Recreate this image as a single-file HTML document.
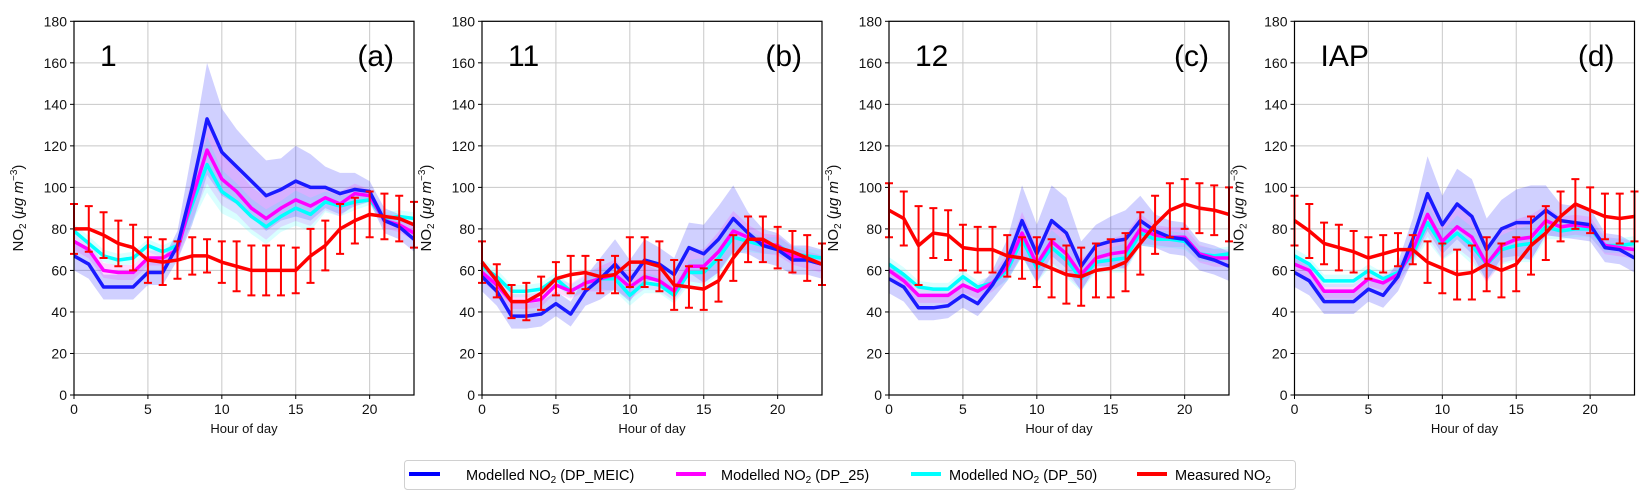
<!DOCTYPE html>
<html><head><meta charset="utf-8"><style>
html,body{margin:0;padding:0;background:#fff;}
svg{display:block;font-family:"Liberation Sans",sans-serif;}
</style></head><body>
<svg id="chart" width="1651" height="503" viewBox="0 0 1651 503" xmlns="http://www.w3.org/2000/svg">
<g id="panels"></g>
<g>
<rect x="404.5" y="460.5" width="891" height="29" rx="3" fill="#fff" stroke="#d0d0d0"/>
<line x1="409" y1="474" x2="440" y2="474" stroke="#0000ff" stroke-width="4"/>
<text x="466" y="480" font-size="14.5">Modelled NO<tspan font-size="10" dy="3">2</tspan><tspan dy="-3"> (DP_MEIC)</tspan></text>
<line x1="676" y1="474" x2="706" y2="474" stroke="#ff00ff" stroke-width="4"/>
<text x="721" y="480" font-size="14.5">Modelled NO<tspan font-size="10" dy="3">2</tspan><tspan dy="-3"> (DP_25)</tspan></text>
<line x1="911" y1="474" x2="941" y2="474" stroke="#00ffff" stroke-width="4"/>
<text x="949" y="480" font-size="14.5">Modelled NO<tspan font-size="10" dy="3">2</tspan><tspan dy="-3"> (DP_50)</tspan></text>
<line x1="1137" y1="474" x2="1167" y2="474" stroke="#ff0000" stroke-width="4"/>
<text x="1175" y="480" font-size="14.5">Measured NO<tspan font-size="10" dy="3">2</tspan></text>
</g>
</svg>
<script>
const hours = [0,1,2,3,4,5,6,7,8,9,10,11,12,13,14,15,16,17,18,19,20,21,22,23];
const xTicks = [0,5,10,15,20];
const yTicks = [0,20,40,60,80,100,120,140,160,180];
const panelNames = ["1","11","12","IAP"];
const panelLetters = ["(a)","(b)","(c)","(d)"];

const meicA = [67,63,52,52,52,59,59,72,100,133,117,110,103,96,99,103,100,100,97,99,98,84,81,75];
const dp25A = [74,70,60,59,59,66,66,70,95,118,104,98,90,85,90,94,91,95,92,97,96,84,82,78];
const dp50A = [79,73,67,65,66,72,69,72,92,111,98,93,86,81,86,90,87,93,91,93,94,85,86,85];
const measA = [80,80,77,73,71,65,64,65,67,67,64,62,60,60,60,60,67,72,80,84,87,86,85,82];
const errA  = [12,11,11,11,11,11,11,9,9,8,10,12,12,12,12,11,13,12,12,11,11,11,11,11];
const sprA  = [7,7,6,6,6,6,6,7,18,27,21,18,17,17,15,17,16,10,10,8,5,6,6,6];

const meicB = [57,50,38,38,39,44,39,50,56,63,55,65,63,58,71,68,75,85,78,72,70,65,65,63];
const dp25B = [59,53,45,45,46,53,50,54,56,58,52,57,55,50,62,62,69,79,76,73,72,67,65,63];
const dp50B = [62,57,50,50,51,56,50,54,56,56,48,54,53,48,59,59,66,76,74,72,72,68,67,66];
const measB = [64,55,45,45,49,56,58,59,57,58,64,64,62,53,52,51,55,66,75,75,71,69,66,63];
const errB  = [10,8,8,9,8,8,9,8,8,9,12,12,12,12,10,10,10,11,11,11,10,10,11,10];
const sprB  = [7,7,6,6,6,6,6,7,10,12,10,10,8,8,12,14,16,16,10,8,8,7,7,7];

const meicC = [56,52,42,42,43,48,44,53,65,84,68,84,78,62,72,74,75,84,79,76,75,67,65,62];
const dp25C = [60,55,48,48,48,53,50,54,62,78,63,74,68,58,66,68,69,80,77,76,76,68,66,66];
const dp50C = [63,58,52,51,51,57,52,54,60,75,61,71,65,56,64,65,66,78,75,75,74,68,67,68];
const measC = [89,85,72,78,77,71,70,70,67,66,64,61,58,57,60,61,64,73,82,89,92,90,89,87];
const errC  = [13,13,19,12,12,11,11,11,10,10,12,14,14,14,13,14,14,15,14,13,12,12,12,13];
const sprC  = [7,7,6,6,6,6,6,7,10,17,14,17,17,12,10,12,14,12,8,8,8,7,7,7];

const meicD = [59,55,45,45,45,51,48,57,75,97,82,92,86,70,80,83,83,89,84,83,82,71,70,66];
const dp25D = [63,60,50,50,50,56,54,58,70,87,74,81,76,63,72,75,76,84,81,82,81,72,71,70];
const dp50D = [67,63,55,55,55,60,56,59,68,83,72,78,72,63,70,72,73,81,79,80,80,72,72,73];
const measD = [84,79,73,71,69,66,68,70,70,64,61,58,59,63,60,63,72,78,86,92,89,86,85,86];
const errD  = [12,13,10,11,10,10,9,8,7,10,12,12,13,13,13,13,14,13,12,12,11,11,12,12];
const sprD  = [7,7,6,6,6,6,6,7,10,18,14,17,18,15,14,16,18,12,8,8,8,7,7,7];

const panelData = [
 {meic:meicA,dp25:dp25A,dp50:dp50A,meas:measA,err:errA,spr:sprA},
 {meic:meicB,dp25:dp25B,dp50:dp50B,meas:measB,err:errB,spr:sprB},
 {meic:meicC,dp25:dp25C,dp50:dp50C,meas:measC,err:errC,spr:sprC},
 {meic:meicD,dp25:dp25D,dp50:dp50D,meas:measD,err:errD,spr:sprD}
];
const lefts = [74, 482, 889, 1294.5];
const W = 340, TOP = 21.3, BOT = 395;
const NS = "http://www.w3.org/2000/svg";
const root = document.getElementById('panels');
function mk(tag, attrs, parent){
  const e = document.createElementNS(NS, tag);
  for (const k in attrs) e.setAttribute(k, attrs[k]);
  parent.appendChild(e); return e;
}
panelData.forEach((d, p) => {
  const L = lefts[p];
  const xs = h => L + h / 23 * W;
  const ys = v => BOT - v / 180 * (BOT - TOP);
  const g = mk('g', {}, root);
  
  
  yTicks.forEach(t => {
    const l = mk('line',{x1:L,x2:L+W,y1:ys(t),y2:ys(t),stroke:'#c8c8c8','stroke-width':1},g);
    
    
    mk('line',{x1:L-4,x2:L,y1:ys(t),y2:ys(t),stroke:'#000'},g);
    const tx = mk('text',{x:L-7,y:ys(t)+5,'font-size':14,'text-anchor':'end',fill:'#111'},g);
    tx.textContent = t;
    
    
  });
  xTicks.forEach(t => {
    const l = mk('line',{x1:xs(t),x2:xs(t),y1:TOP,y2:BOT,stroke:'#c8c8c8','stroke-width':1},g);
    
    
    mk('line',{x1:xs(t),x2:xs(t),y1:BOT,y2:BOT+4,stroke:'#000'},g);
    const tx = mk('text',{x:xs(t),y:BOT+19,'font-size':14,'text-anchor':'middle',fill:'#111'},g);
    tx.textContent = t;
    
    
  });
  const cp = 'clip'+p;
  const defs = mk('defs',{},g);
  const c = mk('clipPath',{id:cp},defs);
  mk('rect',{x:L,y:TOP,width:W,height:BOT-TOP},c);
  const pg = mk('g',{'clip-path':'url(#'+cp+')'},g);
  function band(vals, sprScale, fill, name){
    let pts = hours.map((h,i)=>xs(h)+','+ys(vals[i]+d.spr[i]*sprScale));
    pts = pts.concat(hours.slice().reverse().map(h=>xs(h)+','+ys(vals[h]-d.spr[h]*sprScale)));
    const e = mk('polygon',{points:pts.join(' '),fill:fill},pg);
    
    
  }
  function line(vals, col, name){
    const e = mk('polyline',{points:hours.map((h,i)=>xs(h)+','+ys(vals[i])).join(' '),fill:'none',stroke:col,'stroke-width':3.5,'stroke-linejoin':'round'},pg);
    
    
  }
  band(d.meic, 1, 'rgba(40,40,255,0.22)', 'meic-band');
  band(d.dp25, 0.6, 'rgba(255,0,255,0.15)', 'dp25-band');
  band(d.dp50, 0.5, 'rgba(0,255,255,0.15)', 'dp50-band');
  line(d.dp50, '#00ffff', 'dp50-line');
  line(d.dp25, '#ff00ff', 'dp25-line');
  line(d.meic, '#1a1aff', 'meic-line');
  hours.forEach((h,i)=>{
    const x = xs(h), y1 = ys(d.meas[i]+d.err[i]), y2 = ys(d.meas[i]-d.err[i]);
    const eb = mk('path',{d:`M${x},${y1}V${y2}M${x-4},${y1}H${x+4}M${x-4},${y2}H${x+4}`,stroke:'#ff0000','stroke-width':2,fill:'none'},g);
    
    
  });
  const ml = mk('polyline',{points:hours.map((h,i)=>xs(h)+','+ys(d.meas[i])).join(' '),fill:'none',stroke:'#ff0000','stroke-width':3.5,'stroke-linejoin':'round'},g);
  
  
  const fr = mk('rect',{x:L,y:TOP,width:W,height:BOT-TOP,fill:'none',stroke:'#000','stroke-width':1.2},g);
  
  
  const nm = mk('text',{x:L+26,y:66,'font-size':30,fill:'#000'},g);
  nm.textContent = panelNames[p];
  
  
  const lt = mk('text',{x:L+W-20,y:66,'font-size':30,'text-anchor':'end',fill:'#000'},g);
  lt.textContent = panelLetters[p];
  
  
  const xl = mk('text',{x:L+W/2,y:433,'font-size':13,'text-anchor':'middle',fill:'#111'},g);
  xl.textContent = 'Hour of day';
  
  
  const yl = mk('text',{x:0,y:0,'font-size':15,'text-anchor':'middle',fill:'#111',transform:`translate(${L-51},208) rotate(-90)`},g);
  yl.innerHTML = 'NO<tspan font-size="10" dy="3">2</tspan><tspan dy="-3"> (</tspan><tspan font-style="italic">μg m</tspan><tspan font-size="10" dy="-6">−3</tspan><tspan dy="6">)</tspan>';
  
  
});
</script>
</body></html>
